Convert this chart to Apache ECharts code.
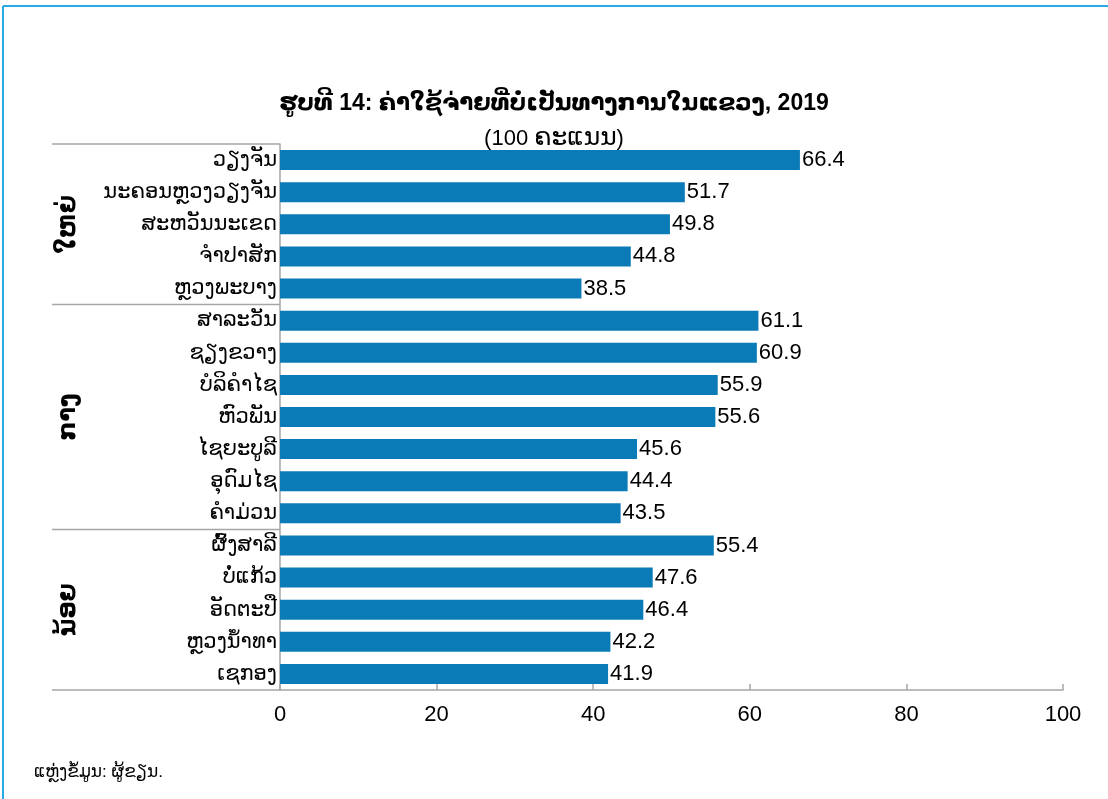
<!DOCTYPE html>
<html><head><meta charset="utf-8">
<script src="https://cdn.jsdelivr.net/npm/echarts@6/dist/echarts.min.js"></script>
<style>html,body{margin:0;padding:0;background:#fff}#c{width:1108px;height:799px}</style>
</head><body><div id="c"></div>
<script>
const categories = ['ວຽງຈັນ','ນະຄອນຫຼວງວຽງຈັນ','ສະຫວັນນະເຂດ','ຈຳປາສັກ','ຫຼວງພະບາງ','ສາລະວັນ','ຊຽງຂວາງ','ບໍລິຄຳໄຊ','ຫົວພັນ','ໄຊຍະບູລີ','ອຸດົມໄຊ','ຄຳມ່ວນ','ຜົ້ງສາລີ','ບໍ່ແກ້ວ','ອັດຕະປື','ຫຼວງນ້ຳທາ','ເຊກອງ'];
const values = [66.4,51.7,49.8,44.8,38.5,61.1,60.9,55.9,55.6,45.6,44.4,43.5,55.4,47.6,46.4,42.2,41.9];
const groupNames = ['ໃຫຍ່','ກາງ','ນ້ອຍ'];
const groupSizes = [5,7,5];
const titleText = 'ຮູບທີ 14: ຄ່າໃຊ້ຈ່າຍທີ່ບໍ່ເປັນທາງການໃນແຂວງ, 2019';
const subtitleNum = '(100 ';
const subtitleLao = 'ຄະແນນ';
const sourceText = 'ແຫຼ່ງຂໍ້ມູນ: ຜູ້ຂຽນ.';

const FONT = 'Arial, "Liberation Sans", "DejaVu Sans", sans-serif';
const chart = echarts.init(document.getElementById('c'), null, {renderer:'canvas'});
const option = {
  animation:false,
  textStyle:{fontFamily:FONT},
  title:[
    {text:titleText, left:'center', top:87, textStyle:{fontFamily:FONT, fontSize:23, fontWeight:'bold', color:'#000'}},
    {text:'{a|'+subtitleNum+'}{b|'+subtitleLao+'}{a|)}', left:'center', top:121,
      textStyle:{fontFamily:FONT, fontWeight:'normal', color:'#000',
        rich:{a:{fontFamily:FONT, fontSize:22, color:'#000'}, b:{fontFamily:FONT, fontSize:25, color:'#000'}}}},
    {text:sourceText, left:29, top:759, textStyle:{fontFamily:FONT, fontSize:17, fontWeight:'normal', color:'#000'}}
  ],
  grid:{left:280, right:45, top:144, bottom:109},
  xAxis:{type:'value', min:0, max:100, interval:20,
    axisLine:{show:true, lineStyle:{color:'#a6a6a6', width:1.5}},
    axisTick:{show:true, inside:true, length:6, lineStyle:{color:'#a6a6a6', width:1.5}},
    splitLine:{show:false},
    axisLabel:{fontSize:22, color:'#000', margin:14, fontFamily:FONT}},
  yAxis:{type:'category', data:categories, inverse:true,
    axisLine:{show:true, lineStyle:{color:'#a6a6a6', width:1.5}},
    axisTick:{show:false},
    axisLabel:{fontSize:21, color:'#000', margin:3, fontFamily:FONT}},
  series:[{type:'bar', data:values, barWidth:20,
    itemStyle:{color:'#0a7bb6'},
    label:{show:true, position:'right', distance:2, fontSize:22, color:'#000', fontFamily:FONT}}]
};
chart.setOption(option);

function drawExtras(){
  const g = [];
  g.push({type:'line', shape:{x1:3,y1:6,x2:1108,y2:6}, style:{stroke:'#2aaae2', lineWidth:2}});
  g.push({type:'line', shape:{x1:3,y1:6,x2:3,y2:799}, style:{stroke:'#2aaae2', lineWidth:2}});
  const x0 = chart.convertToPixel({xAxisIndex:0}, 0);
  const y0 = chart.convertToPixel({yAxisIndex:0}, categories[0]);
  const y1 = chart.convertToPixel({yAxisIndex:0}, categories[1]);
  const band = y1 - y0;
  const leftX = 52;
  let start = 0;
  const bounds = [y0 - band/2];
  groupSizes.forEach((n,i)=>{
    const top = chart.convertToPixel({yAxisIndex:0}, categories[start]) - band/2;
    const bot = chart.convertToPixel({yAxisIndex:0}, categories[start+n-1]) + band/2;
    bounds.push(bot);
    g.push({type:'text', x:68, y:(top+bot)/2, rotation:Math.PI/2,
      style:{text:groupNames[i], font:'bold 24px '+FONT, fill:'#000', textAlign:'center', textVerticalAlign:'middle'}});
    start += n;
  });
  bounds.forEach(b=>{
    g.push({type:'line', shape:{x1:leftX,y1:b,x2:x0,y2:b}, style:{stroke:'#a6a6a6', lineWidth:1.5}});
  });
  chart.setOption({graphic:g});
}
drawExtras();
</script></body></html>
